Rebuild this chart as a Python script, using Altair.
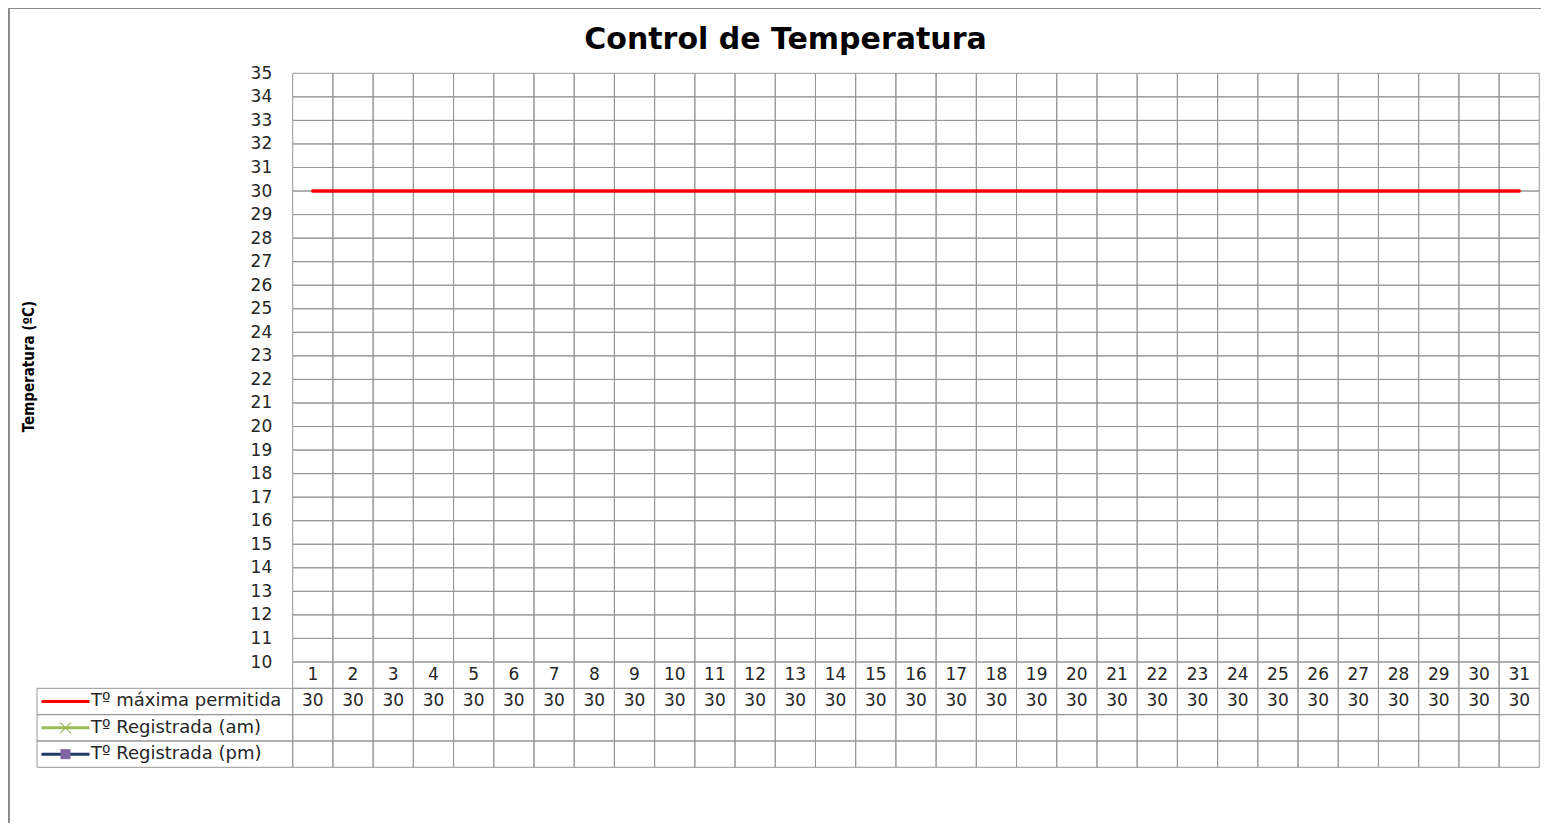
import altair as alt
import pandas as pd

# ---------------- data ----------------
chart_title = "Control de Temperatura"
y_axis_title = "Temperatura (ºC)"
days = [1, 2, 3, 4, 5, 6, 7, 8, 9, 10, 11, 12, 13, 14, 15, 16,
        17, 18, 19, 20, 21, 22, 23, 24, 25, 26, 27, 28, 29, 30, 31]
y_ticks = [10, 11, 12, 13, 14, 15, 16, 17, 18, 19, 20, 21, 22,
           23, 24, 25, 26, 27, 28, 29, 30, 31, 32, 33, 34, 35]
series_keys = ["max", "am", "pm"]
series_names = ["Tº máxima permitida", "Tº Registrada (am)", "Tº Registrada (pm)"]
series_colors = ["#ff0000", "#9bbb59", "#1f3864"]
temp_max = [30, 30, 30, 30, 30, 30, 30, 30, 30, 30, 30, 30, 30, 30, 30, 30,
            30, 30, 30, 30, 30, 30, 30, 30, 30, 30, 30, 30, 30, 30, 30]
temp_am = [None] * 31   # no readings recorded
temp_pm = [None] * 31   # no readings recorded
row_keys = ["cat", "max", "am", "pm"]

# ---------------- styling / layout ----------------
FONT = "DejaVu Sans"
TXT = "#262626"
GRID = "#969696"
PX0, PX1 = 283.7, 1530.3       # plot columns
PY_TOP, PY_BOT = 65.3, 654.0    # temperature 35 .. 10
TB_BOT = 759.3                  # bottom of data table
LEG_X0 = 28.0                   # left edge of legend column

xday = alt.Scale(type="band", domain=days, range=[PX0, PX1], paddingInner=0, paddingOuter=0)
ytemp = alt.Scale(domain=[10, 35], range=[PY_BOT, PY_TOP], nice=False, zero=False)
yrow = alt.Scale(type="band", domain=row_keys, range=[PY_BOT, TB_BOT], paddingInner=0, paddingOuter=0)
xleg = alt.Scale(type="band", domain=["leg"], range=[LEG_X0, PX0], paddingInner=0, paddingOuter=0)
cscale = alt.Scale(domain=series_names, range=series_colors)

# ---------------- tables ----------------
plot_cells = pd.DataFrame([{"day": d, "t0": a, "t1": b}
                           for d in days for a, b in zip(y_ticks[:-1], y_ticks[1:])])
table_cells = pd.DataFrame([{"day": d, "row": r} for d in days for r in row_keys])
legend_df = pd.DataFrame({"key": series_keys, "name": series_names,
                          "col": ["leg"] * len(series_keys)})
series_long = pd.DataFrame([{"day": d, "key": k, "name": n, "value": v}
                            for k, n, vals in zip(series_keys, series_names,
                                                  [temp_max, temp_am, temp_pm])
                            for d, v in zip(days, vals)])
cat_df = pd.DataFrame({"day": days, "row": ["cat"] * len(days)})

# ---------------- layers ----------------
grid_plot = alt.Chart(plot_cells).mark_rect(
    fill="white", fillOpacity=0, stroke=GRID, strokeWidth=1
).encode(
    x=alt.X("day:O", scale=xday, axis=None),
    y=alt.Y("t0:Q", scale=ytemp, axis=alt.Axis(
        orient="left", offset=-PX0, grid=False, domain=False, ticks=False,
        labelPadding=21, values=y_ticks, labelFont=FONT, labelFontSize=17,
        labelColor=TXT, labelFlush=False, labelOverlap=False,
        title=y_axis_title, titleFont="DejaVu Sans Condensed", titleFontSize=15,
        titleFontWeight="bold", titleColor="#000000", titleAngle=270,
        titleX=-264, titleY=358, titleAlign="center", titleBaseline="middle")),
    y2="t1:Q",
)

grid_table = alt.Chart(table_cells).mark_rect(
    fill="white", fillOpacity=0, stroke=GRID, strokeWidth=1
).encode(
    x=alt.X("day:O", scale=xday, axis=None),
    y=alt.Y("row:N", scale=yrow, axis=None),
)

grid_legend = alt.Chart(legend_df).mark_rect(
    fill="white", fillOpacity=0, stroke=GRID, strokeWidth=1
).encode(
    x=alt.X("col:N", scale=xleg, axis=None),
    y=alt.Y("key:N", scale=yrow, axis=None),
)

lines = alt.Chart(series_long).mark_line(strokeWidth=3.5, strokeCap="round").encode(
    x=alt.X("day:O", scale=xday, bandPosition=0.5, axis=None),
    y=alt.Y("value:Q", scale=ytemp, axis=None),
    color=alt.Color("name:N", scale=cscale, legend=None),
)

cat_text = alt.Chart(cat_df).mark_text(
    align="center", baseline="middle", font=FONT, fontSize=17, color=TXT
).encode(
    x=alt.X("day:O", scale=xday, bandPosition=0.5, axis=None),
    y=alt.Y("row:N", scale=yrow, bandPosition=0.5, axis=None),
    text=alt.Text("day:O"),
)

val_text = alt.Chart(series_long).transform_filter("datum.value != null").mark_text(
    align="center", baseline="middle", font=FONT, fontSize=17, color=TXT
).encode(
    x=alt.X("day:O", scale=xday, bandPosition=0.5, axis=None),
    y=alt.Y("key:N", scale=yrow, bandPosition=0.5, axis=None),
    text=alt.Text("value:Q", format="d"),
)

leg_lines = alt.Chart(legend_df).mark_point(
    shape="M-1,0H1", size=2304, filled=False, strokeWidth=3, opacity=1, xOffset=28.5
).encode(
    x=alt.X("col:N", scale=xleg, bandPosition=0, axis=None),
    y=alt.Y("key:N", scale=yrow, bandPosition=0.5, axis=None),
    color=alt.Color("name:N", scale=cscale, legend=None),
)

leg_am = alt.Chart(legend_df).transform_filter("datum.key == 'am'").mark_point(
    shape="M-1,-1L1,1M-1,1L1,-1", size=121, filled=False, strokeWidth=1.2,
    opacity=1, color="#9bbb59", xOffset=28.5
).encode(
    x=alt.X("col:N", scale=xleg, bandPosition=0, axis=None),
    y=alt.Y("key:N", scale=yrow, bandPosition=0.5, axis=None),
)

leg_pm = alt.Chart(legend_df).transform_filter("datum.key == 'pm'").mark_point(
    shape="square", size=100, filled=True, opacity=1, color="#8064a2", xOffset=28.5
).encode(
    x=alt.X("col:N", scale=xleg, bandPosition=0, axis=None),
    y=alt.Y("key:N", scale=yrow, bandPosition=0.5, axis=None),
)

leg_text = alt.Chart(legend_df).mark_text(
    align="left", baseline="middle", font=FONT, fontSize=18, color=TXT, dx=54
).encode(
    x=alt.X("col:N", scale=xleg, bandPosition=0, axis=None),
    y=alt.Y("key:N", scale=yrow, bandPosition=0.5, axis=None),
    text="name:N",
)

chart = alt.layer(
    grid_plot, grid_table, grid_legend, lines, cat_text, val_text,
    leg_lines, leg_am, leg_pm, leg_text
).resolve_scale(
    x="independent", y="independent", color="independent"
).properties(
    width=1543, height=837,
    title=alt.TitleParams(chart_title, font=FONT, fontSize=30, fontWeight="bold",
                          color="#000000", anchor="middle", frame="group",
                          offset=-62, baseline="middle", dx=5),
    autosize=alt.AutoSizeParams(type="none"),
    padding={"left": 1, "top": 0, "right": -11, "bottom": -22},
).configure(
    background="white",
).configure_view(
    stroke="#8c8c8c", strokeWidth=2,
)

chart.save("out.html", embed_options={"renderer": "svg", "actions": False})
